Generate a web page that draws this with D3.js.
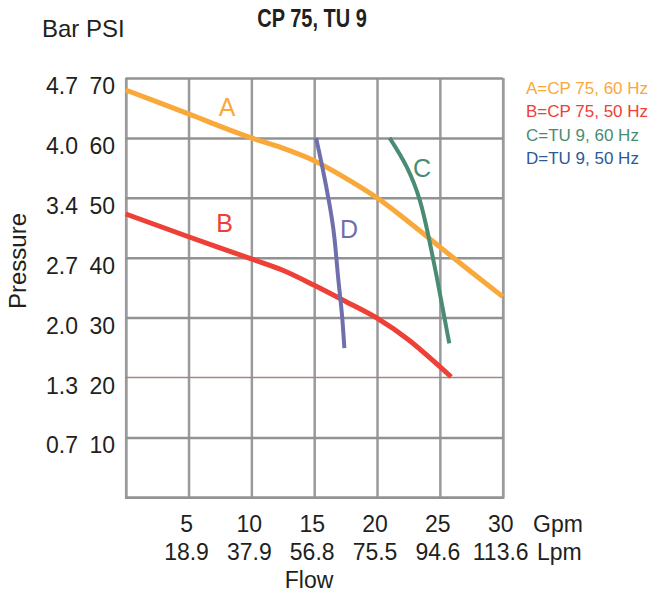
<!DOCTYPE html>
<html>
<head>
<meta charset="utf-8">
<script src="https://cdn.jsdelivr.net/npm/d3@7"></script>
<style>
body { margin: 0; background: #fff; }
text { font-family: "Liberation Sans", Arial, sans-serif; fill: #231f20; }
</style>
</head>
<body>
<div id="chart"></div>
<script>
// tick labels
var gpmTicks = [5, 10, 15, 20, 25, 30];
var lpmLabels = ["18.9", "37.9", "56.8", "75.5", "94.6", "113.6"];
var psiTicks = [10, 20, 30, 40, 50, 60, 70];
var barLabels = ["0.7", "1.3", "2.0", "2.7", "3.4", "4.0", "4.7"];

// curves: [gpm, psi]
var curveA = [[0, 68], [5, 64], [10, 60], [12.5, 58.3], [15, 56.2], [17.5, 53.3], [20, 50], [22.5, 46], [25, 41.8], [27.5, 37.6], [30, 33.5]];
var curveB = [[0, 47.3], [5, 43.5], [10, 39.8], [12.5, 37.9], [15, 35.4], [17.5, 32.7], [20, 29.9], [22.5, 26.3], [25, 21.8], [25.9, 20.1]];
var curveC = [[21.0, 60], [22.35, 55.2], [23.4, 49.6], [24.1, 43.5], [24.75, 36.8], [25.3, 30.7], [25.75, 25.7]];
var curveD = [[15.15, 60], [15.7, 54.6], [16.2, 49.1], [16.6, 43.5], [16.9, 36.8], [17.2, 30.7], [17.4, 24.9]];

var legendLabels = ["A=CP 75, 60 Hz", "B=CP 75, 50 Hz", "C=TU 9, 60 Hz", "D=TU 9, 50 Hz"];

var width = 653, height = 594;

var svg = d3.select('#chart')
    .append('svg')
    .attr('width', width)
    .attr('height', height);

var x = d3.scaleLinear().domain([0, 30]).range([125.7, 502.7]);
var y = d3.scaleLinear().domain([0, 70]).range([497.3, 78]);

var gridColor = "#9a9a9c";

// vertical grid
svg.append('g')
    .attr('transform', 'translate(0,' + y(0) + ')')
    .call(d3.axisBottom(x).tickValues(d3.range(0, 31, 5)).tickSize(-(y(0) - y(70))).tickFormat(''))
    .call(function (g) {
        g.select('.domain').attr('stroke', gridColor).attr('stroke-width', 2.5);
        g.selectAll('.tick line').attr('stroke', gridColor).attr('stroke-width', 2.5);
    });

// horizontal grid
svg.append('g')
    .attr('transform', 'translate(' + x(0) + ',0)')
    .call(d3.axisLeft(y).tickValues([0, 10, 30, 40, 50, 60, 70]).tickSize(-(x(30) - x(0))).tickFormat(''))
    .call(function (g) {
        g.select('.domain').remove();
        g.selectAll('.tick line').attr('stroke', '#8f9394').attr('stroke-width', 2.5);
    });

// 20 psi line
svg.append('line')
    .attr('x1', x(0)).attr('x2', x(30))
    .attr('y1', y(20)).attr('y2', y(20))
    .attr('stroke', '#a88484')
    .attr('stroke-width', 1.6);

// y labels
svg.selectAll('.psi')
    .data(psiTicks)
    .enter()
    .append('text')
    .attr('x', 115)
    .attr('y', function (d) { return y(d) + 16; })
    .attr('text-anchor', 'end')
    .style('font-size', '23px')
    .text(function (d) { return d; });

svg.selectAll('.bar')
    .data(barLabels)
    .enter()
    .append('text')
    .attr('x', 78)
    .attr('y', function (d, i) { return y(psiTicks[i]) + 16; })
    .attr('text-anchor', 'end')
    .style('font-size', '23px')
    .text(function (d) { return d; });

// x labels
svg.selectAll('.gpm')
    .data(gpmTicks)
    .enter()
    .append('text')
    .attr('x', function (d) { return x(d) - 2; })
    .attr('y', 531.5)
    .attr('text-anchor', 'middle')
    .style('font-size', '23px')
    .text(function (d) { return d; });

svg.selectAll('.lpm')
    .data(lpmLabels)
    .enter()
    .append('text')
    .attr('x', function (d, i) { return x(gpmTicks[i]) - 2; })
    .attr('y', 560)
    .attr('text-anchor', 'middle')
    .style('font-size', '23px')
    .text(function (d) { return d; });

svg.append('text').attr('x', 533).attr('y', 531.5).style('font-size', '23px').text('Gpm');
svg.append('text').attr('x', 537).attr('y', 560).style('font-size', '23px').text('Lpm');
svg.append('text').attr('x', 309).attr('y', 588).attr('text-anchor', 'middle').style('font-size', '23px').text('Flow');

svg.append('text')
    .attr('transform', 'translate(26,261) rotate(-90)')
    .attr('text-anchor', 'middle')
    .style('font-size', '24px')
    .text('Pressure');

svg.append('text').attr('x', 42).attr('y', 36.7).style('font-size', '24px').text('Bar PSI');

// condensed bold title
svg.append('text')
    .attr('transform', 'translate(312,26.5) scale(0.8,1)')
    .attr('text-anchor', 'middle')
    .style('font-weight', 'bold')
    .style('font-size', '25px')
    .text('CP 75, TU 9');

// curves
var lineX = d3.line()
    .x(function (d) { return x(d[0]); })
    .y(function (d) { return y(d[1]); })
    .curve(d3.curveMonotoneX);

var lineY = d3.line()
    .x(function (d) { return x(d[0]); })
    .y(function (d) { return y(d[1]); })
    .curve(d3.curveNatural);

var series = [
    { data: curveA, gen: lineX, color: '#f9a83a', w: 5, label: 'A', lx: 227, ly: 116 },
    { data: curveB, gen: lineX, color: '#ee4036', w: 5, label: 'B', lx: 224.5, ly: 232 },
    { data: curveC, gen: lineY, color: '#4a8c72', w: 4, label: 'C', lx: 422, ly: 177 },
    { data: curveD, gen: lineY, color: '#6f6fae', w: 4, label: 'D', lx: 349, ly: 238 }
];

series.forEach(function (s) {
    svg.append('path')
        .attr('d', s.gen(s.data))
        .attr('fill', 'none')
        .attr('stroke', s.color)
        .attr('stroke-width', s.w);
    svg.append('text')
        .attr('x', s.lx).attr('y', s.ly)
        .attr('text-anchor', 'middle')
        .style('font-size', '25px')
        .style('fill', s.color)
        .text(s.label);
});

// legend
var legendColors = ['#f9a83a', '#ee4036', '#4a8c72', '#2d5996'];
svg.selectAll('.legend')
    .data(legendLabels)
    .enter()
    .append('text')
    .attr('x', 526)
    .attr('y', function (d, i) { return 94 + i * 23.4; })
    .style('font-size', '17px')
    .style('fill', function (d, i) { return legendColors[i]; })
    .text(function (d) { return d; });
</script>
</body>
</html>
